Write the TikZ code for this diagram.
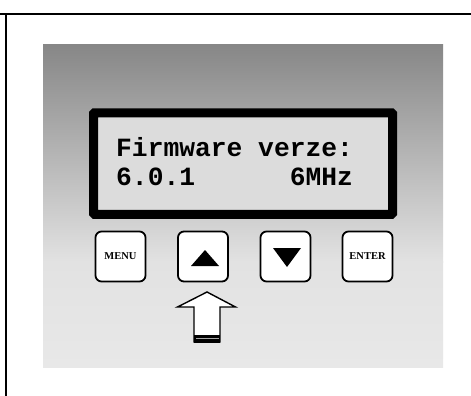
\documentclass[tikz,border=0pt]{standalone}
\usepackage{fontspec}
\newfontfamily\lcdfont{Liberation Mono}
\newfontfamily\btnfont{Liberation Serif}
\begin{document}
\begin{tikzpicture}[x=1pt,y=-1pt,
  frameline/.style={line width=2.3pt, black},
  lcdbox/.style={draw=black, line width=9pt, fill=lcdgray, rounded corners=1pt},
  lcdtext/.style={font=\lcdfont\bfseries\fontsize{26.3}{28}\selectfont, inner sep=0pt, anchor=base west},
  btn/.style={draw=black, line width=1.8pt, fill=white, rounded corners=6pt, minimum width=50pt, minimum height=50pt, inner sep=0pt, font=\btnfont\bfseries\fontsize{10.5}{12}\selectfont},
  pointer/.style={draw=black, line width=1.4pt, fill=white, line join=miter}
]
\definecolor{lcdgray}{HTML}{DCDCDC}
\definecolor{paneltop}{HTML}{878787}
\definecolor{panelmid}{HTML}{E2E2E2}
\definecolor{panelbot}{HTML}{E8E8E8}
\useasboundingbox (0,0) rectangle (471,396);
\fill[white] (0,0) rectangle (471,396);
% frame lines
\coordinate (tl) at (0,14);
\coordinate (tr) at (471,14);
\coordinate (vt) at (6,14);
\coordinate (vb) at (6,396);
\draw[frameline] (tl) -- (tr);
\draw[frameline] (vt) -- (vb);
% panel
\shade[top color=paneltop, bottom color=panelmid] (43,45) rectangle (443,262);
\shade[top color=panelmid, bottom color=panelbot] (43,261.5) rectangle (443,367);
% LCD
\node[lcdbox, minimum width=299pt, minimum height=101.5pt, inner sep=0pt] (lcd) at (243,163.5) {};
\node[lcdtext] (l1) at (116,156) {Firmware verze:};
\node[lcdtext] (l2) at (116,185) {6.0.1};
\node[lcdtext, anchor=base east] (l3) at (l1.base east |- l2.base) {6MHz};
% buttons
\node[btn] (menu) at (120.5,256.5) {MENU};
\node[btn] (up) at (203,256.5) {};
\node[btn] (down) at (285.5,256.5) {};
\node[btn] (enter) at (367.5,256.5) {\raisebox{1.5pt}{ENTER}};
\fill[black] ([shift={(-12,9.5)}]up.center) -- ([shift={(16,9.5)}]up.center) -- ([shift={(2,-6.5)}]up.center) -- cycle;
\fill[black] ([shift={(-12.5,-8.5)}]down.center) -- ([shift={(15.5,-8.5)}]down.center) -- ([shift={(1.5,10.5)}]down.center) -- cycle;
% pointer arrow
\coordinate (tip) at (207,292);
\draw[pointer] (tip) -- (235.5,307) -- (220,307) -- (220,342) -- (194,342) -- (194,307) -- (177.5,307) -- cycle;
\fill[black] (194,335) rectangle (220,342.5);
\fill[gray!70] (195.5,337.6) rectangle (218.5,339.4);
\end{tikzpicture}
\end{document}
